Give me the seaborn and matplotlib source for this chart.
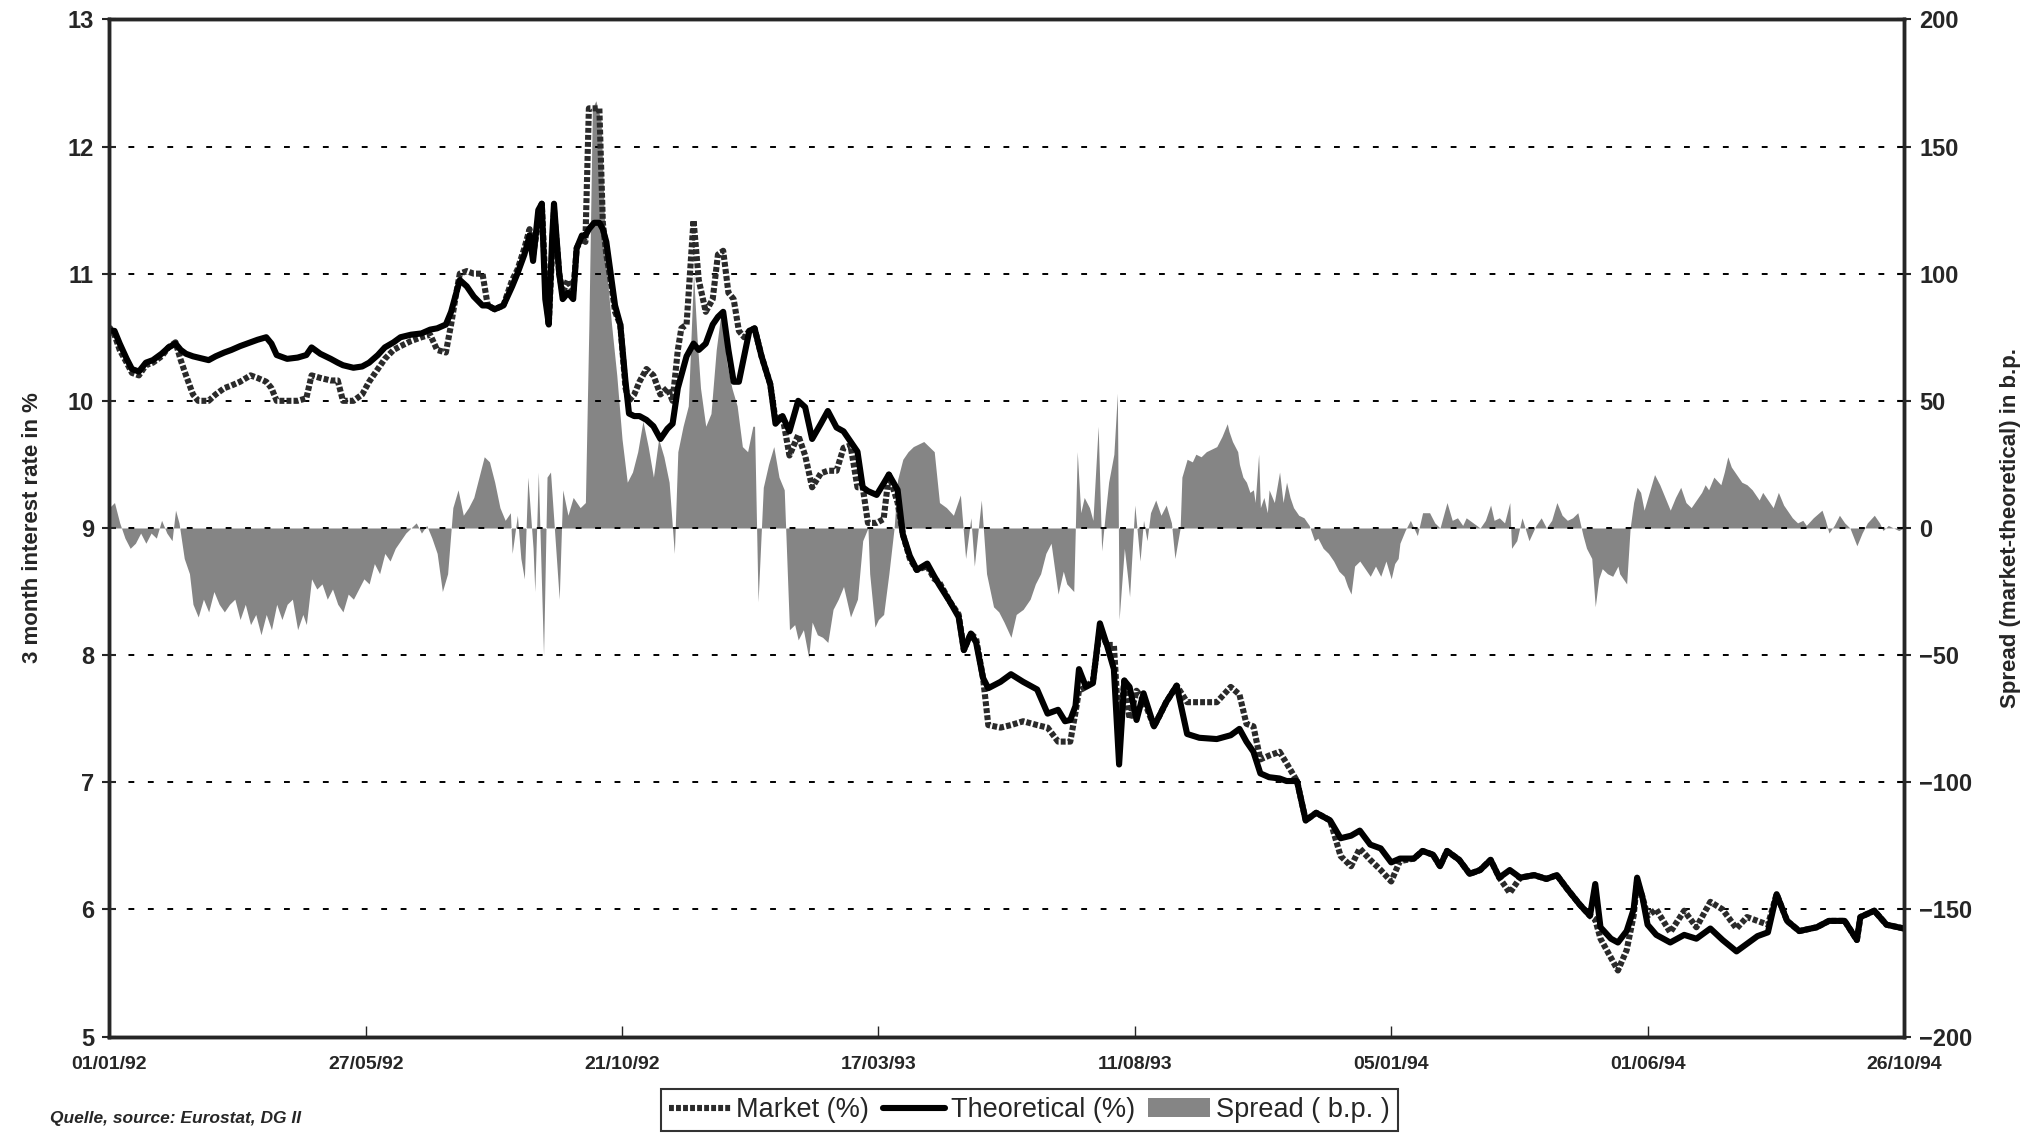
import matplotlib
matplotlib.use("Agg")
import matplotlib.pyplot as plt
import matplotlib.dates as mdates
from matplotlib.lines import Line2D
from matplotlib.patches import Patch
import seaborn as sns
import pandas as pd

# days counted from 01/01/92
day = [0, 3, 6, 10, 13, 17, 21, 25, 30, 34, 38, 41, 44, 48, 51, 57, 61, 66, 70, 75,
       81, 85, 90, 93, 96, 102, 108, 113, 116, 121, 127, 131, 134, 140, 145, 149, 154, 158, 163, 167,
       173, 179, 184, 188, 193, 196, 199, 201, 205, 209, 214, 217, 221, 226, 231, 234, 238, 241, 243, 246,
       248, 250, 252, 254, 255, 258, 260, 263, 266, 268, 271, 273, 275, 278, 281, 283, 285, 288, 290, 293,
       296, 298, 301, 304, 308, 312, 316, 320, 323, 326, 328, 331, 335, 338, 342, 346, 349, 352, 355, 358,
       361, 364, 367, 370, 374, 379, 382, 386, 390, 395, 399, 403, 408, 412, 417, 421, 425, 429, 432, 435,
       440, 444, 447, 452, 455, 459, 463, 469, 473, 476, 482, 487, 490, 494, 497, 501, 504, 511, 517, 524,
       532, 538, 544, 548, 551, 554, 556, 560, 564, 568, 572, 576, 579, 582, 585, 589, 593, 599, 602, 606,
       612, 618, 625, 635, 643, 648, 652, 656, 660, 665, 671, 675, 681, 686, 692, 700, 706, 712, 717, 723,
       729, 735, 740, 748, 753, 759, 763, 767, 774, 780, 786, 792, 797, 803, 809, 817, 824, 830, 836, 843,
       849, 852, 855, 861, 865, 870, 874, 876, 879, 882, 887, 895, 903, 910, 918, 925, 933, 939, 945, 951,
       956, 962, 969, 979, 986, 995, 1002, 1004, 1012, 1019, 1029]

market = [10.58, 10.52, 10.40, 10.30, 10.22, 10.20, 10.28, 10.30, 10.35, 10.42, 10.46, 10.32, 10.20, 10.05, 10.00, 10.00, 10.05, 10.10, 10.12, 10.15,
          10.20, 10.18, 10.15, 10.10, 10.00, 10.00, 10.00, 10.02, 10.20, 10.18, 10.16, 10.16, 10.00, 10.00, 10.05, 10.15, 10.25, 10.33, 10.40, 10.43,
          10.47, 10.50, 10.52, 10.40, 10.38, 10.60, 10.85, 11.00, 11.02, 11.00, 11.00, 10.75, 10.72, 10.75, 10.95, 11.03, 11.20, 11.35, 11.15, 11.40,
          11.55, 10.95, 10.60, 11.20, 11.50, 11.00, 10.85, 10.95, 10.85, 11.20, 11.28, 11.25, 12.30, 12.30, 12.30, 11.40, 11.15, 10.90, 10.70, 10.60,
          10.10, 10.00, 10.05, 10.15, 10.25, 10.20, 10.05, 10.10, 10.00, 10.40, 10.57, 10.60, 11.42, 10.95, 10.70, 10.80, 11.15, 11.18, 10.85, 10.80,
          10.55, 10.50, 10.55, 10.57, 10.35, 10.13, 9.85, 9.88, 9.57, 9.73, 9.57, 9.32, 9.43, 9.45, 9.45, 9.63, 9.65, 9.32, 9.32, 9.04,
          9.04, 9.07, 9.42, 9.20, 8.95, 8.76, 8.67, 8.70, 8.60, 8.57, 8.42, 8.32, 8.04, 8.17, 8.13, 7.82, 7.45, 7.43, 7.45, 7.48,
          7.45, 7.43, 7.32, 7.32, 7.32, 7.55, 7.72, 7.75, 7.80, 8.20, 8.08, 8.08, 7.40, 7.80, 7.50, 7.72, 7.65, 7.44, 7.52, 7.63,
          7.76, 7.63, 7.63, 7.63, 7.75, 7.69, 7.46, 7.44, 7.18, 7.21, 7.24, 7.15, 7.01, 6.70, 6.76, 6.70, 6.42, 6.34, 6.48, 6.39,
          6.31, 6.22, 6.38, 6.40, 6.46, 6.43, 6.34, 6.46, 6.39, 6.28, 6.31, 6.39, 6.25, 6.13, 6.25, 6.27, 6.24, 6.27, 6.16, 6.04,
          5.95, 5.92, 5.77, 5.62, 5.52, 5.68, 5.95, 6.22, 6.10, 5.95, 6.00, 5.82, 5.99, 5.86, 6.06, 6.00, 5.85, 5.94, 5.91, 5.88,
          6.12, 5.91, 5.83, 5.86, 5.91, 5.91, 5.76, 5.94, 5.99, 5.88, 5.85]

theoretical = [10.55, 10.55, 10.45, 10.33, 10.25, 10.23, 10.30, 10.32, 10.37, 10.42, 10.45, 10.40, 10.37, 10.35, 10.34, 10.32, 10.35, 10.38, 10.40, 10.43,
               10.46, 10.48, 10.50, 10.45, 10.36, 10.33, 10.34, 10.36, 10.42, 10.37, 10.33, 10.30, 10.28, 10.26, 10.27, 10.30, 10.36, 10.42, 10.46, 10.50,
               10.52, 10.53, 10.56, 10.57, 10.60, 10.70, 10.85, 10.95, 10.90, 10.82, 10.75, 10.75, 10.72, 10.75, 10.90, 11.00, 11.15, 11.30, 11.10, 11.50,
               11.55, 10.80, 10.60, 11.30, 11.55, 11.00, 10.80, 10.85, 10.80, 11.20, 11.30, 11.30, 11.35, 11.40, 11.40, 11.35, 11.25, 10.95, 10.75, 10.60,
               10.15, 9.90, 9.88, 9.88, 9.85, 9.80, 9.70, 9.78, 9.82, 10.10, 10.20, 10.35, 10.45, 10.40, 10.45, 10.60, 10.66, 10.70, 10.40, 10.15,
               10.15, 10.35, 10.55, 10.57, 10.35, 10.13, 9.82, 9.88, 9.76, 10.00, 9.95, 9.70, 9.82, 9.92, 9.79, 9.76, 9.68, 9.60, 9.32, 9.29,
               9.26, 9.35, 9.42, 9.30, 8.95, 8.78, 8.67, 8.72, 8.62, 8.55, 8.42, 8.30, 8.04, 8.17, 8.10, 7.82, 7.74, 7.79, 7.85, 7.79,
               7.73, 7.54, 7.57, 7.48, 7.49, 7.60, 7.89, 7.75, 7.78, 8.25, 8.08, 7.89, 7.14, 7.80, 7.75, 7.49, 7.70, 7.44, 7.52, 7.63,
               7.76, 7.38, 7.35, 7.34, 7.37, 7.42, 7.32, 7.24, 7.07, 7.04, 7.03, 7.01, 7.01, 6.70, 6.76, 6.70, 6.56, 6.58, 6.62, 6.51,
               6.48, 6.37, 6.40, 6.40, 6.46, 6.43, 6.34, 6.46, 6.39, 6.28, 6.31, 6.39, 6.25, 6.31, 6.25, 6.27, 6.24, 6.27, 6.16, 6.04,
               5.95, 6.20, 5.86, 5.77, 5.74, 5.83, 6.00, 6.25, 6.10, 5.88, 5.80, 5.74, 5.80, 5.77, 5.85, 5.76, 5.67, 5.73, 5.79, 5.82,
               6.12, 5.91, 5.83, 5.86, 5.91, 5.91, 5.76, 5.94, 5.99, 5.88, 5.85]

spread_day = [0, 3, 6, 9, 12, 15, 18, 21, 24, 27, 30, 33, 36, 38, 40, 43, 46, 48, 51, 54,
              57, 60, 63, 66, 69, 72, 75, 78, 81, 84, 87, 90, 93, 96, 99, 102, 105, 108, 111, 113,
              116, 119, 122, 125, 128, 131, 134, 137, 140, 143, 146, 149, 152, 155, 158, 161, 164, 167, 170, 173,
              176, 179, 182, 185, 188, 191, 194, 197, 200, 203, 206, 209, 212, 215, 218, 221, 224, 227, 230, 231,
              234, 236, 238, 240, 243, 244, 246, 249, 251, 253, 255, 258, 260, 263, 266, 270, 273, 275, 277, 279,
              282, 284, 286, 288, 291, 294, 297, 300, 303, 306, 309, 312, 315, 318, 321, 324, 326, 329, 332, 335,
              337, 339, 342, 345, 348, 351, 354, 357, 360, 363, 366, 369, 370, 372, 375, 378, 381, 384, 387, 390,
              393, 395, 398, 401, 403, 406, 409, 412, 415, 418, 421, 425, 429, 432, 435, 436, 439, 441, 444, 447,
              450, 452, 455, 458, 461, 464, 467, 470, 473, 476, 480, 484, 488, 491, 494, 496, 500, 503, 507, 510,
              513, 517, 520, 524, 528, 531, 534, 537, 540, 544, 547, 549, 553, 555, 557, 559, 562, 564, 567, 569,
              571, 573, 576, 578, 579, 582, 584, 585, 588, 591, 593, 595, 597, 600, 603, 606, 609, 611, 614, 615,
              618, 621, 623, 626, 629, 632, 635, 638, 641, 642, 644, 647, 648, 650, 652, 654, 656, 657, 659, 660,
              662, 664, 665, 668, 671, 673, 675, 677, 679, 682, 685, 688, 691, 693, 696, 699, 702, 705, 708, 710,
              712, 714, 717, 720, 723, 726, 729, 732, 735, 737, 739, 740, 743, 746, 750, 753, 757, 760, 763, 767,
              770, 773, 776, 778, 782, 786, 789, 792, 794, 797, 800, 803, 804, 807, 810, 814, 818, 821, 824, 827,
              830, 833, 836, 839, 842, 845, 847, 850, 852, 854, 856, 859, 862, 865, 866, 868, 870, 872, 874, 876,
              878, 880, 883, 886, 889, 892, 895, 898, 901, 904, 907, 910, 913, 915, 917, 920, 924, 926, 928, 930,
              933, 936, 939, 942, 944, 946, 948, 952, 954, 957, 960, 962, 965, 968, 971, 973, 977, 982, 984, 986,
              989, 992, 995, 998, 1002, 1005, 1008, 1012, 1015, 1017, 1020, 1023, 1026, 1029]

spread_bp = [8, 10, 2, -4, -8, -6, -2, -6, -2, -4, 3, -2, -5, 7, 2, -12, -18, -30, -35, -28,
             -33, -25, -30, -33, -30, -28, -36, -30, -38, -34, -42, -34, -40, -30, -36, -30, -28, -40, -34, -38,
             -20, -24, -22, -28, -24, -30, -33, -26, -28, -24, -20, -22, -14, -18, -10, -13, -8, -5, -2, 0,
             2, -2, 1, -4, -10, -25, -18, 8, 15, 5, 8, 12, 20, 28, 26, 18, 8, 3, 6, -10,
             5, -12, -20, 20, -8, -25, 22, -50, 20, 22, 2, -28, 15, 5, 12, 8, 10, 80, 165, 168,
             160, 120, 95, 80, 60, 35, 18, 22, 30, 42, 32, 20, 35, 28, 18, -10, 30, 40, 48, 100,
             75, 55, 40, 45, 70, 86, 65, 55, 48, 32, 30, 40, 40, -29, 16, 25, 32, 20, 15, -40,
             -38, -44, -40, -51, -37, -42, -43, -45, -32, -28, -23, -35, -28, -5, 0, -18, -39, -36, -34, -18,
             0, 19, 27, 30, 32, 33, 34, 32, 30, 10, 8, 5, 13, -12, 4, -15, 11, -18, -31, -33,
             -37, -43, -34, -32, -28, -22, -18, -10, -6, -26, -17, -22, -25, 30, 6, 12, 8, 3, 40, -9,
             5, 18, 29, 53, -36, -8, -20, -27, 9, -13, 3, -5, 6, 11, 5, 9, 2, -12, 0, 20,
             27, 26, 29, 28, 30, 31, 32, 36, 41, 38, 34, 30, 25, 20, 18, 14, 15, 10, 29, 8,
             12, 6, 15, 10, 22, 10, 18, 12, 8, 5, 4, 1, -5, -4, -8, -10, -13, -17, -19, -23,
             -26, -15, -13, -16, -19, -15, -19, -13, -20, -14, -12, -6, -1, 3, -3, 6, 6, 2, 0, 10,
             3, 4, 1, 4, 2, 0, 3, 9, 3, 4, 2, 10, -8, -5, 4, -5, 1, 4, 0, 3,
             10, 5, 3, 4, 6, -3, -8, -12, -31, -20, -16, -18, -19, -15, -18, -20, -22, 0, 10, 16,
             14, 7, 14, 21, 17, 12, 7, 12, 16, 10, 8, 11, 14, 17, 15, 20, 17, 22, 28, 24,
             21, 18, 17, 15, 13, 11, 14, 10, 8, 14, 9, 7, 4, 2, 3, 1, 4, 7, 3, -2,
             1, 5, 2, 0, -7, -2, 2, 5, 2, -1, 1, 0, -1, 0]

tick_step_days = 147
n_ticks = 8

start = pd.Timestamp("1992-01-01")
lines = pd.DataFrame({
    "date": start + pd.to_timedelta(day, unit="D"),
    "Market (%)": market,
    "Theoretical (%)": theoretical,
})
spread = pd.DataFrame({
    "date": start + pd.to_timedelta(spread_day, unit="D"),
    "bp": spread_bp,
})

sns.set_style("ticks")
plt.rcParams["font.family"] = ["Liberation Sans", "DejaVu Sans"]
plt.rcParams["font.weight"] = "bold"

mkt_color = "#2a2a2a"
mkt_style = (0, (0.8, 0.35))
spread_color = "#858585"

fig = plt.figure(figsize=(20.42, 11.38), dpi=100)
ax = fig.add_axes([0.0535, 0.0891, 0.8789, 0.8939])
ax2 = ax.twinx()

# spread bars behind the lines
ax2.fill_between(spread["date"], 0, spread["bp"], color=spread_color, lw=0)
ax2.set_ylim(-200, 200)
ax2.set_yticks(range(-200, 201, 50))
ax2.tick_params(axis="y", direction="inout", length=10, width=1.5, labelsize=17, pad=6)
ax2.set_ylabel("Spread (market-theoretical) in b.p.", fontsize=16, fontweight="bold", labelpad=20)

ax.set_zorder(ax2.get_zorder() + 1)
ax.patch.set_visible(False)

sns.lineplot(data=lines, x="date", y="Market (%)", ax=ax, estimator=None,
             color=mkt_color, lw=4.4, linestyle=mkt_style)
sns.lineplot(data=lines, x="date", y="Theoretical (%)", ax=ax, estimator=None,
             color="black", lw=4.4)

ax.set_ylim(5, 13)
ax.set_yticks(range(5, 14))
ax.yaxis.grid(True, linestyle=(0, (3, 7)), color="black", lw=1.4)
ax.set_ylabel("3 month interest rate in %", fontsize=16, fontweight="bold", labelpad=18)
ax.set_xlabel("")
ax.tick_params(axis="y", direction="inout", length=10, width=1.5, labelsize=17, pad=6)

xt = [start + pd.Timedelta(days=tick_step_days * i) for i in range(n_ticks)]
ax.set_xlim(xt[0], xt[-1])
ax.set_xticks(xt)
ax.xaxis.set_major_formatter(mdates.DateFormatter("%d/%m/%y"))
ax.tick_params(axis="x", direction="in", length=8, width=1, labelsize=14, pad=14)

for a in (ax, ax2):
    for s in a.spines.values():
        s.set_linewidth(2.5)
        s.set_visible(True)

handles = [
    Line2D([], [], color=mkt_color, lw=4.4, linestyle=mkt_style),
    Line2D([], [], color="black", lw=4.4),
    Patch(facecolor=spread_color, edgecolor="none"),
]
leg = fig.legend(handles, ["Market (%)", "Theoretical (%)", "Spread ( b.p. )"],
                 loc="lower center", bbox_to_anchor=(0.504, -0.006), ncol=3,
                 frameon=True, fancybox=False, edgecolor="black",
                 handlelength=2.3, handletextpad=0.2, columnspacing=0.5,
                 borderpad=0.3, prop={"weight": "normal", "size": 19.5})
leg.get_frame().set_linewidth(1.5)

fig.text(0.0245, 0.0135, "Quelle, source: Eurostat, DG II", fontsize=12.5,
         fontstyle="italic", fontweight="bold")

fig.savefig("out.png", dpi=100)
